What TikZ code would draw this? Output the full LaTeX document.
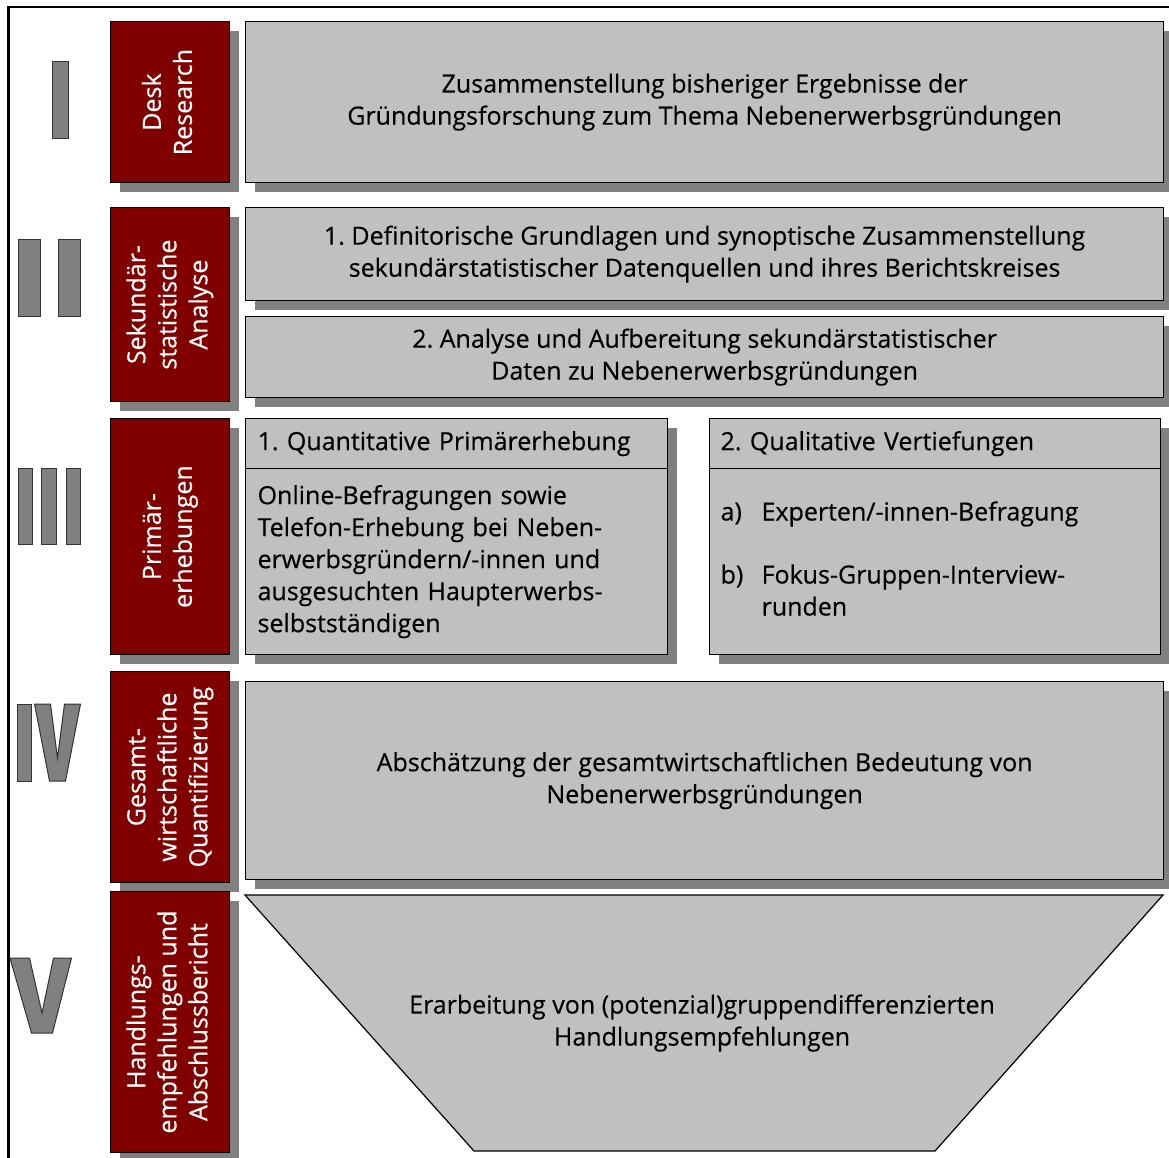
\documentclass[tikz,border=0pt]{standalone}
\usepackage{fontspec}
\setmainfont{Open Sans}[UprightFeatures={FakeBold=0.4}]
\usepackage{graphicx}
\usetikzlibrary{shadows}
\frenchspacing
\definecolor{phasered}{RGB}{128,0,0}
\definecolor{taskgrey}{RGB}{192,192,192}
\definecolor{shadegrey}{RGB}{128,128,128}
\newcommand{\phaselabel}[1]{\rotatebox{90}{\begin{tabular}{@{}c@{}}#1\end{tabular}}}
\tikzset{
  boxshadow/.style={drop shadow={shadow xshift=9pt, shadow yshift=-9pt, fill=shadegrey, opacity=1}},
  phase/.style={anchor=north west, draw=black, line width=1.2pt, fill=phasered, text=white,
    inner sep=0pt, boxshadow, font=\fontsize{25}{31}\selectfont},
  tasktext/.style={align=center, font=\fontsize{25}{32}\selectfont},
  task/.style={anchor=north west, draw=black, line width=1.2pt, fill=taskgrey, inner sep=0pt,
    boxshadow, tasktext},
  numeral/.style={draw=black!80, line width=1pt, fill=shadegrey},
}
\begin{document}
\begin{tikzpicture}[x=1pt,y=-1pt]
      \useasboundingbox (0,0) rectangle (1169,1158);
      \clip (0,0) rectangle (1169,1158);
      % frame
      \draw[line width=2.5pt] (8.5,7) rectangle (1200,1200);
      % numerals
      \draw[numeral] (52,62) rectangle (68,139);
      \draw[numeral] (18,240) rectangle (40,316) (58,240) rectangle (80,316);
      \draw[numeral] (18,468) rectangle (32,544) (41,468) rectangle (56,544) (66,468) rectangle (80,544);
      \draw[numeral] (17.5,704) rectangle (31,781);
      \draw[numeral] (34.5,704) -- (50.5,704) -- (57.5,758) -- (64.5,704) -- (80.5,704)
        -- (65.5,781) -- (49.5,781) -- cycle;
      \draw[numeral] (10,958) -- (29.5,958) -- (42,1013) -- (53.5,958) -- (71.5,958)
        -- (52.5,1033) -- (31.5,1033) -- cycle;
      % phases
      \node[phase, minimum width=119, minimum height=161] (desk) at (110,21)
        {\phaselabel{Desk\\Research}};
      \node[phase, minimum width=119, minimum height=194] (second) at (110,207)
        {\phaselabel{Sekundär-\\statistische\\Analyse}};
      \node[phase, minimum width=119, minimum height=236] (primary) at (110,418)
        {\phaselabel{Primär-\\erhebungen}};
      \node[phase, minimum width=119, minimum height=211] (macro) at (110,671)
        {\phaselabel{Gesamt-\\wirtschaftliche\\Quantifizierung}};
      \node[phase, minimum width=119, minimum height=261] (advice) at (110,891)
        {\phaselabel{Handlungs-\\empfehlungen und\\Abschlussbericht}};
      % tasks I and II
      \node[task, minimum width=918, minimum height=161] (review) at (245,21)
        {Zusammenstellung bisheriger Ergebnisse der\\Gründungsforschung zum Thema Nebenerwerbsgründungen};
      \node[task, minimum width=918, minimum height=93] (sources) at (245,207)
        {1. Definitorische Grundlagen und synoptische Zusammenstellung\\sekundärstatistischer Datenquellen und ihres Berichtskreises};
      \node[task, minimum width=918, minimum height=81] (stats) at (245,316)
        {2. Analyse und Aufbereitung sekundärstatistischer\\Daten zu Nebenerwerbsgründungen};
      % tasks III
      \node[task, align=left, inner xsep=12pt, text width=398pt, minimum height=50] (quanthead) at (245,418)
        {1. Quantitative Primärerhebung};
      \node[task, align=left, inner xsep=12pt, text width=398pt, minimum height=186] (quantbody) at (245,468)
        {Online-Befragungen sowie\\Telefon-Erhebung bei Neben-\\erwerbsgründern/-innen und\\ausgesuchten Haupterwerbs-\\selbstständigen};
      \node[task, align=left, inner xsep=11pt, text width=429pt, minimum height=50] (qualhead) at (709,418)
        {2. Qualitative Vertiefungen};
      \node[task, align=left, inner xsep=11pt, text width=429pt, minimum height=186] (qualbody) at (709,468)
        {\begin{tabular}{@{}p{41pt}@{}l@{}}
          a) & Experten/-innen-Befragung\\[31pt]
          b) & Fokus-Gruppen-Interview-\\
             & runden
        \end{tabular}};
      % tasks IV and V
      \node[task, minimum width=918, minimum height=198] (impact) at (245,681)
        {Abschätzung der gesamtwirtschaftlichen Bedeutung von\\Nebenerwerbsgründungen};
      \draw[line width=1.2pt, fill=taskgrey] (245,895) -- (1163,895) -- (935,1151) -- (474,1151) -- cycle;
      \node[tasktext] (measures) at (702,1023)
        {Erarbeitung von (potenzial)gruppendifferenzierten\\Handlungsempfehlungen};
\end{tikzpicture}
\end{document}
